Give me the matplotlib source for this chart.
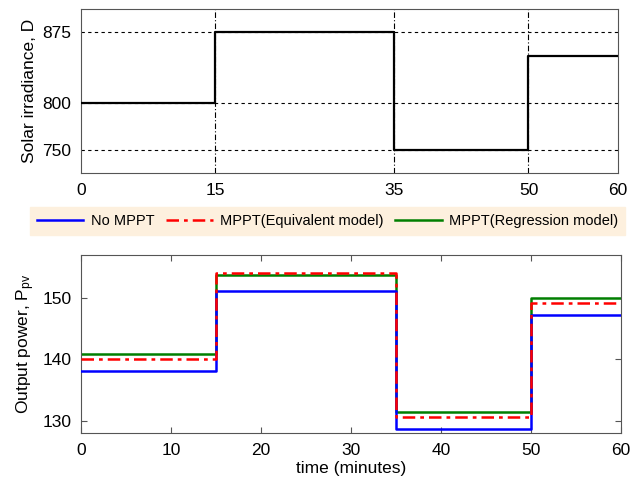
import matplotlib
matplotlib.use("Agg")
import matplotlib.pyplot as plt
from matplotlib.lines import Line2D

plt.rcParams['font.family'] = ['Liberation Sans', 'DejaVu Sans']
plt.rcParams['mathtext.fontset'] = 'custom'
plt.rcParams['mathtext.rm'] = 'Liberation Sans'
plt.rcParams['mathtext.it'] = 'Liberation Sans:italic'

# Data
t_edges = [0, 15, 35, 50, 60]
irradiance = [800, 875, 750, 850]
p_no_mppt = [138.1, 151.1, 128.7, 147.3]
p_equiv = [140.1, 154.0, 130.65, 149.2]
p_regr = [140.8, 153.7, 131.4, 150.0]
top_yticks = [750, 800, 875]
top_xticks = [0, 15, 35, 50, 60]
bot_yticks = [130, 140, 150]
bot_xticks = [0, 10, 20, 30, 40, 50, 60]
labels = ['No MPPT', 'MPPT(Equivalent model)', 'MPPT(Regression model)']

def step(vals):
    return vals + [vals[-1]]

fig = plt.figure(figsize=(6.3, 4.82), dpi=100)
W, H = 630, 482
def rect(l, t, r, b):
    return [l / W, 1 - b / H, (r - l) / W, (b - t) / H]

ax1 = fig.add_axes(rect(81, 9, 618, 173))
ax1.plot(t_edges, step(irradiance), drawstyle='steps-post', color='black', lw=1.6, zorder=3)
ax1.set_xlim(0, 60)
ax1.set_ylim(725, 900)
ax1.set_xticks(top_xticks)
ax1.set_yticks(top_yticks)
for y in top_yticks:
    ax1.axhline(y, color='black', lw=0.8, ls=(0, (3, 3)), zorder=1)
for x in top_xticks[1:-1]:
    ax1.axvline(x, color='black', lw=0.8, ls=(0, (5, 2, 1, 2)), zorder=1)
ax1.set_ylabel('Solar irradiance, D', fontsize=12.5, labelpad=4)
ax1.tick_params(direction='in', labelsize=12.5, length=0, pad=7)
for s in ax1.spines.values():
    s.set_color('#555555')

ax2 = fig.add_axes(rect(81, 255, 621, 433))
ax2.plot(t_edges, step(p_regr), drawstyle='steps-post', color='#007f00', lw=1.8, zorder=2)
ax2.plot(t_edges, step(p_no_mppt), drawstyle='steps-post', color='#0000ff', lw=1.8, zorder=3)
ax2.plot(t_edges, step(p_equiv), drawstyle='steps-post', color='#ff0000', lw=1.8,
         ls=(0, (5, 2, 1.5, 2)), zorder=4)
ax2.set_xlim(0, 60)
ax2.set_ylim(128, 157)
ax2.set_xticks(bot_xticks)
ax2.set_yticks(bot_yticks)
ax2.tick_params(direction='in', labelsize=12.5, length=4, pad=7, right=True, top=True,
                color='#555555')
ax2.set_xlabel('time (minutes)', fontsize=12.5, labelpad=2)
ax2.set_ylabel(r'Output power, $\mathrm{P_{pv}}$', fontsize=12.5, labelpad=4)
for s in ax2.spines.values():
    s.set_color('#555555')

handles = [
    Line2D([], [], color='#0000ff', lw=1.8),
    Line2D([], [], color='#ff0000', lw=1.8, ls=(0, (5, 2, 1.5, 2))),
    Line2D([], [], color='#007f00', lw=1.8),
]
leg = fig.legend(handles, labels, ncol=3, loc='center', bbox_to_anchor=(327.5 / W, 1 - 221 / H),
                 fontsize=10.5, frameon=True, fancybox=False, handlelength=3.2,
                 handletextpad=0.5, columnspacing=0.8, borderpad=0.45)
leg.get_frame().set_facecolor('#fdf0de')
leg.get_frame().set_edgecolor('#fdf0de')
leg.get_frame().set_alpha(1)

fig.savefig('out.png', dpi=100)
